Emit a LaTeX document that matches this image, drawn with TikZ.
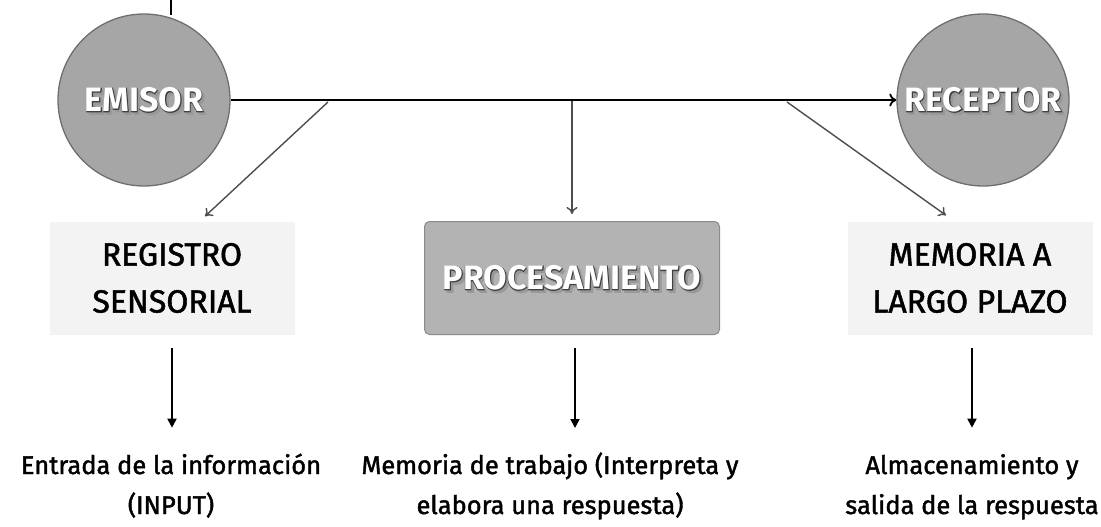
\documentclass[tikz,border=0pt]{standalone}
\usepackage{fontspec}
\setmainfont{Fira Sans}[UprightFeatures={FakeBold=1.6}]
\newfontfamily\rimfont{Fira Sans}[BoldFeatures={FakeBold=3}]
\usetikzlibrary{arrows.meta, positioning, calc}
\definecolor{discgray}{HTML}{A6A6A6}
\definecolor{rimgray}{HTML}{6E6E6E}
\definecolor{paleback}{HTML}{F3F3F3}
\definecolor{linkgray}{HTML}{4D4D4D}
% white bold label with a dark rim and shadow
\newcommand{\artlabel}[2]{%
  \node[artfont, text=black!40] at ($(#1)+(2.5,2.5)$) {\rimfont\bfseries #2};
  \node[artfont, text=black!75] at (#1) {\rimfont\bfseries #2};
  \node[artfont, text=white] at (#1) {#2};
}
\begin{document}
\begin{tikzpicture}[x=1pt, y=-1pt,
  disc/.style={circle, draw=rimgray, line width=1.3pt, fill=discgray, minimum size=172pt, inner sep=0pt},
  softbox/.style={fill=paleback, minimum width=245pt, minimum height=113pt, align=center, inner sep=0pt,
    font=\fontsize{32}{47}\selectfont},
  procbox/.style={rounded corners=5pt, draw=rimgray!80, line width=1pt, fill=discgray!85!white,
    minimum width=295pt, minimum height=113pt, inner sep=0pt},
  artfont/.style={font=\fontsize{34}{36}\selectfont\bfseries, inner sep=0pt},
  note/.style={align=center, inner sep=0pt, font=\fontsize{25.5}{40}\selectfont},
  feed/.style={draw=linkgray, line width=1.4pt, -{To[length=7pt, width=11pt]}},
  down/.style={line width=1.8pt, -{Triangle[length=9pt, width=9pt]}}]
\useasboundingbox (0,0) rectangle (1101,527);
% cut piece at the top edge
\draw[line width=1.8pt] (171,0) -- (171,15);
% sender and receiver
\node[disc] (emisor) at (144,100) {};
\node[disc] (receptor) at (983,100) {};
\draw[line width=1.8pt, -{To[length=7pt, width=13pt]}] (emisor) -- (receptor);
\artlabel{emisor}{EMISOR}
\artlabel{receptor}{RECEPTOR}
% the three stages
\node[softbox] (registro) at (172,278) {REGISTRO\\SENSORIAL};
\node[procbox] (proceso) at (572,278) {};
\node[softbox] (memoria) at (970,278) {MEMORIA A\\LARGO PLAZO};
\artlabel{proceso}{PROCESAMIENTO}
% branches from the main line
\coordinate (b1) at (328,102);
\coordinate (b2) at (572,101);
\coordinate (b3) at (787,102);
\draw[feed] (b1) -- ([xshift=33pt, yshift=5pt]registro.north);
\draw[feed] (b2) -- ([yshift=7pt]proceso.north);
\draw[feed] (b3) -- ([xshift=-24pt, yshift=6pt]memoria.north);
% what each stage does
\node[note, anchor=base] (entrada) at (171,514) {Entrada de la información\\(INPUT)};
\node[note, anchor=base] (trabajo) at (550,514) {Memoria de trabajo (Interpreta y\\elabora una respuesta)};
\node[note, anchor=base] (salida) at (972,514) {Almacenamiento y\\salida de la respuesta};
\draw[down] ([yshift=-13pt]registro.south) -- ++(0,80);
\draw[down] ([xshift=3pt, yshift=-13pt]proceso.south) -- ++(0,80);
\draw[down] ([xshift=2pt, yshift=-13pt]memoria.south) -- ++(0,80);
\end{tikzpicture}
\end{document}
